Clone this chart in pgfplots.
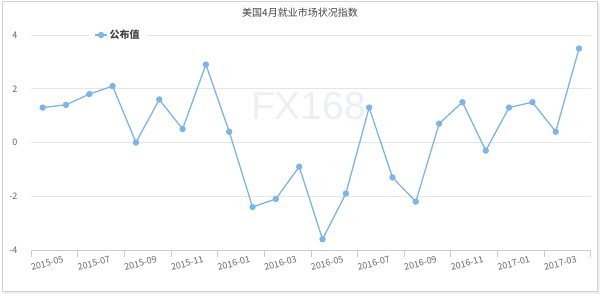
\documentclass[border=0pt]{standalone}
\usepackage{fontspec}
\setmainfont{Noto Sans CJK SC}
\newfontfamily\wmfont{Liberation Sans}
\usepackage{pgfplots}
\pgfplotsset{compat=1.18}
\usepackage{pgfplotstable}

\definecolor{series}{HTML}{7CB5EC}
\definecolor{gridc}{HTML}{E6E6E6}
\definecolor{axisc}{HTML}{C0D0E0}
\definecolor{labelc}{HTML}{666666}
\definecolor{titlec}{HTML}{444444}
\definecolor{wmc}{HTML}{EDEFF2}

% Labor market conditions index, 2015-05 .. 2017-04 (one row per month)
\pgfplotstableread{
idx  value
0.5   1.3
1.5   1.4
2.5   1.8
3.5   2.1
4.5   0.0
5.5   1.6
6.5   0.5
7.5   2.9
8.5   0.4
9.5  -2.4
10.5 -2.1
11.5 -0.9
12.5 -3.6
13.5 -1.9
14.5  1.3
15.5 -1.3
16.5 -2.2
17.5  0.7
18.5  1.5
19.5 -0.3
20.5  1.3
21.5  1.5
22.5  0.4
23.5  3.5
}\lmci

\begin{document}
\begin{tikzpicture}
\path[use as bounding box] (0pt,0pt) rectangle (600pt,296pt);
% card frame with a soft shadow
\draw[gray!12, line width=2.5pt] (4pt,3.5pt) -- (598.5pt,3.5pt) -- (598.5pt,292pt);
\draw[gray!35, line width=0.7pt] (2pt,5pt) rectangle (597pt,295pt);
% watermark
\node[text=wmc, font=\wmfont\fontsize{39}{39}\selectfont] at (308.5pt,190pt) {FX168};
% title
\node[text=titlec, font=\fontsize{10}{12}\selectfont] at (300pt,283pt) {美国4月就业市场状况指数};

\begin{axis}[
  at={(31pt,46pt)}, anchor=south west,
  scale only axis, width=559.7pt, height=215pt,
  xmin=0, xmax=24, ymin=-4, ymax=4,
  axis line style={draw=none},
  ytick={-4,-2,0,2,4},
  ytick style={draw=none},
  ymajorgrids, grid style={gridc, line width=0.8pt},
  xtick={0.5,2.5,...,22.5},
  xticklabels={2015-05,2015-07,2015-09,2015-11,2016-01,2016-03,2016-05,2016-07,2016-09,2016-11,2017-01,2017-03},
  xtick style={draw=none},
  xtick pos=left,
  extra x ticks={0,2,...,24},
  extra x tick labels={},
  extra x tick style={xtick style={draw=axisc, line width=0.7pt}, major tick length=7pt, tick align=outside},
  tick label style={text=labelc, font=\fontsize{9}{10}\selectfont},
  /pgf/number format/assume math mode=true,
  xticklabel style={rotate=15, anchor=center, yshift=-14pt, xshift=1pt},
  yticklabel style={xshift=-10pt},
  legend style={at={(0.1555,1)}, anchor=center, draw=none, fill=white,
    font=\bfseries\fontsize{10}{12}\selectfont, text=titlec,
    inner xsep=5pt, inner ysep=1pt},
  legend image code/.code={\draw[#1, mark repeat=2, mark phase=2] plot coordinates {(0pt,0pt) (6pt,0pt) (12pt,0pt)};},
  clip=false,
]
\draw[axisc, line width=0.8pt] (rel axis cs:0,0) -- (rel axis cs:1,0);
\addplot[series, line width=1.3pt, mark=*, mark size=2.5pt,
  mark options={fill=series, draw=series}] table[x=idx, y=value]{\lmci};
\addlegendentry{公布值}
\end{axis}
\end{tikzpicture}
\end{document}
